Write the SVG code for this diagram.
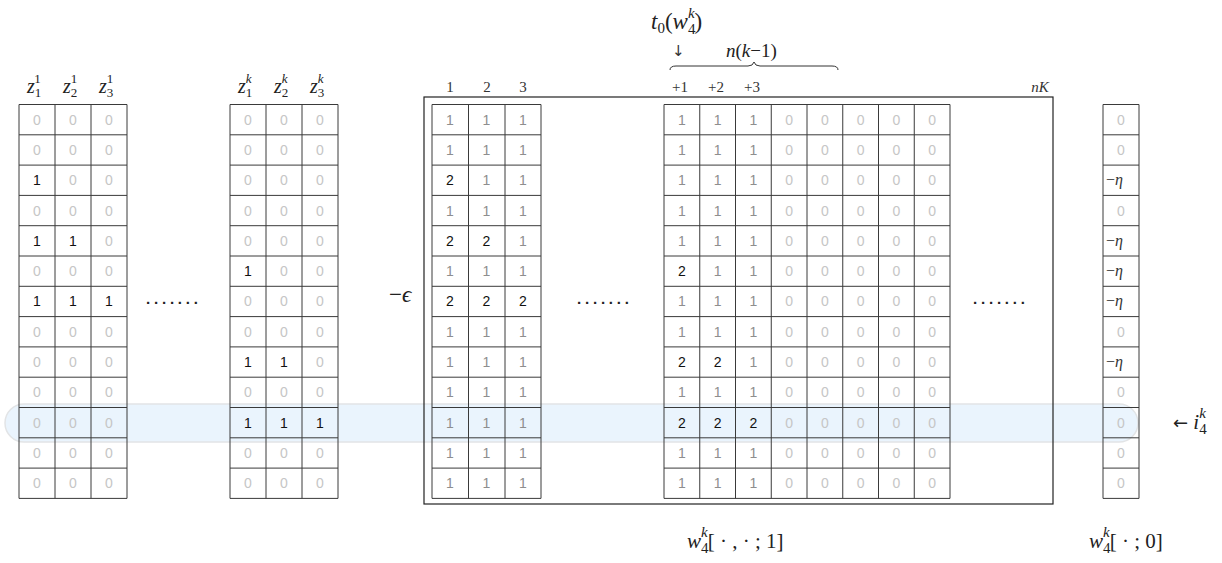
<svg xmlns="http://www.w3.org/2000/svg" width="1222" height="563" viewBox="0 0 1222 563">
<style>
.grid{fill:none;stroke:#3a3a3a;stroke-width:1}
.box{fill:none;stroke:#222;stroke-width:1.2}
.c{font-family:"Liberation Sans",Arial,sans-serif;font-size:14px;text-anchor:middle}
.z{fill:#c6c6c6}
.g{fill:#8e8e8e}
.k{fill:#111}
.m{font-family:"Liberation Serif","DejaVu Serif",serif;font-size:20px;fill:#222}
.L{font-size:23px}
.i{font-style:italic}
.s{font-size:13px}
.s2{font-size:15px}
.ar{font-family:"DejaVu Sans",sans-serif;font-style:normal}
.n{font-family:"Liberation Serif","DejaVu Serif",serif;font-size:15px;fill:#333;text-anchor:middle}
.dots{font-family:"Liberation Sans",Arial,sans-serif;font-size:15px;font-weight:bold;fill:#222;letter-spacing:3.8px}
.eta{font-family:"Liberation Serif","DejaVu Serif",serif;font-size:16px;fill:#333}
</style>

<g id="highlight-row">
<rect x="5" y="404" width="1133" height="38" rx="19" ry="19" fill="#eaf4fd" stroke="#e2e4e6" stroke-width="1.5"/>
</g>

<g id="grid-z1">
<path class="grid" d="M19 104.5V498.4M55 104.5V498.4M91 104.5V498.4M127 104.5V498.4M19 104.5H127M19 134.8H127M19 165.1H127M19 195.4H127M19 225.7H127M19 256H127M19 286.3H127M19 316.6H127M19 346.9H127M19 377.2H127M19 407.5H127M19 437.8H127M19 468.1H127M19 498.4H127"/>
<text class="c z" x="37 73 109" y="124.6">000</text>
<text class="c z" x="37 73 109" y="154.9">000</text>
<text class="c" y="185.2"><tspan class="k" x="37">1</tspan><tspan class="z" x="73 109">00</tspan></text>
<text class="c z" x="37 73 109" y="215.5">000</text>
<text class="c" y="245.8"><tspan class="k" x="37 73">11</tspan><tspan class="z" x="109">0</tspan></text>
<text class="c z" x="37 73 109" y="276.1">000</text>
<text class="c k" x="37 73 109" y="306.4">111</text>
<text class="c z" x="37 73 109" y="336.7">000</text>
<text class="c z" x="37 73 109" y="367">000</text>
<text class="c z" x="37 73 109" y="397.3">000</text>
<text class="c z" x="37 73 109" y="427.6">000</text>
<text class="c z" x="37 73 109" y="457.9">000</text>
<text class="c z" x="37 73 109" y="488.2">000</text>
</g>

<g id="grid-zk">
<path class="grid" d="M230 104.5V498.4M266 104.5V498.4M302 104.5V498.4M338 104.5V498.4M230 104.5H338M230 134.8H338M230 165.1H338M230 195.4H338M230 225.7H338M230 256H338M230 286.3H338M230 316.6H338M230 346.9H338M230 377.2H338M230 407.5H338M230 437.8H338M230 468.1H338M230 498.4H338"/>
<text class="c z" x="248 284 320" y="124.6">000</text>
<text class="c z" x="248 284 320" y="154.9">000</text>
<text class="c z" x="248 284 320" y="185.2">000</text>
<text class="c z" x="248 284 320" y="215.5">000</text>
<text class="c z" x="248 284 320" y="245.8">000</text>
<text class="c" y="276.1"><tspan class="k" x="248">1</tspan><tspan class="z" x="284 320">00</tspan></text>
<text class="c z" x="248 284 320" y="306.4">000</text>
<text class="c z" x="248 284 320" y="336.7">000</text>
<text class="c" y="367"><tspan class="k" x="248 284">11</tspan><tspan class="z" x="320">0</tspan></text>
<text class="c z" x="248 284 320" y="397.3">000</text>
<text class="c k" x="248 284 320" y="427.6">111</text>
<text class="c z" x="248 284 320" y="457.9">000</text>
<text class="c z" x="248 284 320" y="488.2">000</text>
</g>

<g id="box-w1">
<rect class="box" x="424" y="97" width="629" height="407"/>
</g>

<g id="grid-w1-a">
<path class="grid" d="M432 104.5V498.4M468.5 104.5V498.4M505 104.5V498.4M541 104.5V498.4M432 104.5H541M432 134.8H541M432 165.1H541M432 195.4H541M432 225.7H541M432 256H541M432 286.3H541M432 316.6H541M432 346.9H541M432 377.2H541M432 407.5H541M432 437.8H541M432 468.1H541M432 498.4H541"/>
<text class="c g" x="450 486.5 523" y="124.6">111</text>
<text class="c g" x="450 486.5 523" y="154.9">111</text>
<text class="c" y="185.2"><tspan class="k" x="450">2</tspan><tspan class="g" x="486.5 523">11</tspan></text>
<text class="c g" x="450 486.5 523" y="215.5">111</text>
<text class="c" y="245.8"><tspan class="k" x="450 486.5">22</tspan><tspan class="g" x="523">1</tspan></text>
<text class="c g" x="450 486.5 523" y="276.1">111</text>
<text class="c k" x="450 486.5 523" y="306.4">222</text>
<text class="c g" x="450 486.5 523" y="336.7">111</text>
<text class="c g" x="450 486.5 523" y="367">111</text>
<text class="c g" x="450 486.5 523" y="397.3">111</text>
<text class="c g" x="450 486.5 523" y="427.6">111</text>
<text class="c g" x="450 486.5 523" y="457.9">111</text>
<text class="c g" x="450 486.5 523" y="488.2">111</text>
</g>

<g id="grid-w1-b">
<path class="grid" d="M664 104.5V498.4M699.75 104.5V498.4M735.5 104.5V498.4M771.25 104.5V498.4M807 104.5V498.4M842.75 104.5V498.4M878.5 104.5V498.4M914.25 104.5V498.4M950 104.5V498.4M664 104.5H950M664 134.8H950M664 165.1H950M664 195.4H950M664 225.7H950M664 256H950M664 286.3H950M664 316.6H950M664 346.9H950M664 377.2H950M664 407.5H950M664 437.8H950M664 468.1H950M664 498.4H950"/>
<text class="c" y="124.6"><tspan class="g" x="681.9 717.6 753.4">111</tspan><tspan class="z" x="789.1 824.9 860.6 896.4 932.1">00000</tspan></text>
<text class="c" y="154.9"><tspan class="g" x="681.9 717.6 753.4">111</tspan><tspan class="z" x="789.1 824.9 860.6 896.4 932.1">00000</tspan></text>
<text class="c" y="185.2"><tspan class="g" x="681.9 717.6 753.4">111</tspan><tspan class="z" x="789.1 824.9 860.6 896.4 932.1">00000</tspan></text>
<text class="c" y="215.5"><tspan class="g" x="681.9 717.6 753.4">111</tspan><tspan class="z" x="789.1 824.9 860.6 896.4 932.1">00000</tspan></text>
<text class="c" y="245.8"><tspan class="g" x="681.9 717.6 753.4">111</tspan><tspan class="z" x="789.1 824.9 860.6 896.4 932.1">00000</tspan></text>
<text class="c" y="276.1"><tspan class="k" x="681.9">2</tspan><tspan class="g" x="717.6 753.4">11</tspan><tspan class="z" x="789.1 824.9 860.6 896.4 932.1">00000</tspan></text>
<text class="c" y="306.4"><tspan class="g" x="681.9 717.6 753.4">111</tspan><tspan class="z" x="789.1 824.9 860.6 896.4 932.1">00000</tspan></text>
<text class="c" y="336.7"><tspan class="g" x="681.9 717.6 753.4">111</tspan><tspan class="z" x="789.1 824.9 860.6 896.4 932.1">00000</tspan></text>
<text class="c" y="367"><tspan class="k" x="681.9 717.6">22</tspan><tspan class="g" x="753.4">1</tspan><tspan class="z" x="789.1 824.9 860.6 896.4 932.1">00000</tspan></text>
<text class="c" y="397.3"><tspan class="g" x="681.9 717.6 753.4">111</tspan><tspan class="z" x="789.1 824.9 860.6 896.4 932.1">00000</tspan></text>
<text class="c" y="427.6"><tspan class="k" x="681.9 717.6 753.4">222</tspan><tspan class="z" x="789.1 824.9 860.6 896.4 932.1">00000</tspan></text>
<text class="c" y="457.9"><tspan class="g" x="681.9 717.6 753.4">111</tspan><tspan class="z" x="789.1 824.9 860.6 896.4 932.1">00000</tspan></text>
<text class="c" y="488.2"><tspan class="g" x="681.9 717.6 753.4">111</tspan><tspan class="z" x="789.1 824.9 860.6 896.4 932.1">00000</tspan></text>
</g>

<g id="grid-w0">
<path class="grid" d="M1103 104.5V498.4M1139 104.5V498.4M1103 104.5H1139M1103 134.8H1139M1103 165.1H1139M1103 195.4H1139M1103 225.7H1139M1103 256H1139M1103 286.3H1139M1103 316.6H1139M1103 346.9H1139M1103 377.2H1139M1103 407.5H1139M1103 437.8H1139M1103 468.1H1139M1103 498.4H1139"/>
<text class="c z" x="1121" y="124.6">0</text>
<text class="c z" x="1121" y="154.9">0</text>
<text class="eta" x="1106" y="185.2">−<tspan class="i">η</tspan></text>
<text class="c z" x="1121" y="215.5">0</text>
<text class="eta" x="1106" y="245.8">−<tspan class="i">η</tspan></text>
<text class="eta" x="1106" y="276.1">−<tspan class="i">η</tspan></text>
<text class="eta" x="1106" y="306.4">−<tspan class="i">η</tspan></text>
<text class="c z" x="1121" y="336.7">0</text>
<text class="eta" x="1106" y="367">−<tspan class="i">η</tspan></text>
<text class="c z" x="1121" y="397.3">0</text>
<text class="c z" x="1121" y="427.6">0</text>
<text class="c z" x="1121" y="457.9">0</text>
<text class="c z" x="1121" y="488.2">0</text>
</g>

<g id="labels">
<text class="m" x="27" y="93"><tspan class="i">z</tspan><tspan class="s" dy="4">1</tspan><tspan class="s" dx="-6.5" dy="-14">1</tspan></text>
<text class="m" x="63" y="93"><tspan class="i">z</tspan><tspan class="s" dy="4">2</tspan><tspan class="s" dx="-6.5" dy="-14">1</tspan></text>
<text class="m" x="99" y="93"><tspan class="i">z</tspan><tspan class="s" dy="4">3</tspan><tspan class="s" dx="-6.5" dy="-14">1</tspan></text>
<text class="m" x="238" y="93"><tspan class="i">z</tspan><tspan class="s" dy="4">1</tspan><tspan class="s i" dx="-6.5" dy="-14">k</tspan></text>
<text class="m" x="274" y="93"><tspan class="i">z</tspan><tspan class="s" dy="4">2</tspan><tspan class="s i" dx="-6.5" dy="-14">k</tspan></text>
<text class="m" x="310" y="93"><tspan class="i">z</tspan><tspan class="s" dy="4">3</tspan><tspan class="s i" dx="-6.5" dy="-14">k</tspan></text>

<text class="m L" x="651" y="29"><tspan class="i">t</tspan><tspan class="s2" dy="4">0</tspan><tspan dy="-4">(</tspan><tspan class="i">w</tspan><tspan class="s2" dy="5">4</tspan><tspan class="s2 i" dx="-7.5" dy="-16">k</tspan><tspan dy="11">)</tspan></text>
<text class="m ar" x="672" y="56" style="font-size:15px;fill:#333">↓</text>
<text class="m" x="726" y="57" style="font-size:19px"><tspan class="i">n</tspan>(<tspan class="i">k</tspan>−1)</text>

<text class="n" x="450" y="92">1</text>
<text class="n" x="487" y="92">2</text>
<text class="n" x="523" y="92">3</text>
<text class="n" x="680" y="92">+1</text>
<text class="n" x="716" y="92">+2</text>
<text class="n" x="752" y="92">+3</text>
<text class="n i" x="1040" y="92">nK</text>

<text class="dots" x="146" y="304">.......</text>
<text class="dots" x="577" y="304">.......</text>
<text class="dots" x="973" y="304">.......</text>

<text class="m" x="389" y="302" style="font-size:23px">−<tspan class="i">ϵ</tspan></text>

<text class="m" x="687" y="548" style="font-size:21px"><tspan class="i">w</tspan><tspan class="s2" dy="5">4</tspan><tspan class="s2 i" dx="-7.5" dy="-16">k</tspan><tspan dy="11">[ · , · ; 1]</tspan></text>
<text class="m" x="1089" y="548" style="font-size:21px"><tspan class="i">w</tspan><tspan class="s2" dy="5">4</tspan><tspan class="s2 i" dx="-7.5" dy="-16">k</tspan><tspan dy="11">[ · ; 0]</tspan></text>
<text class="m" x="1173" y="429" style="font-size:21px"><tspan class="ar" style="font-size:18px">←</tspan> <tspan class="i">i</tspan><tspan class="s2" dy="5">4</tspan><tspan class="s2 i" dx="-7.5" dy="-16">k</tspan></text>
</g>

<g id="annotations">
<path d="M670 70Q670 66 676 66H748Q753 66 754 62Q755 66 760 66H832Q838 66 838 70" fill="none" stroke="#333" stroke-width="1"/>
</g>
</svg>
